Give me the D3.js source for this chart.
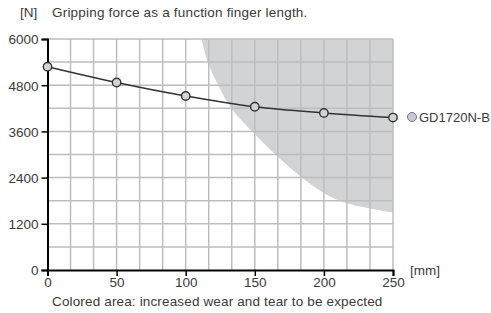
<!DOCTYPE html>
<html>
<head>
<meta charset="utf-8">
<script src="https://cdn.jsdelivr.net/npm/d3@7"></script>
<style>
  body { margin: 0; background: #fff; }
  text { font-family: "Liberation Sans", Arial, sans-serif; fill: #3a3a3a; }
</style>
</head>
<body>
<script>
// data
var lengths = [0, 50, 100, 150, 200, 250];
var forces = [5280, 4870, 4520, 4240, 4080, 3960];
var seriesName = "GD1720N-B";
// edge of the coloured (wear) area: [mm, N]
var wearLen = [111.5, 116, 123.5, 133, 148, 165, 184, 200, 216, 250];
var wearForce = [6000, 5400, 4800, 4200, 3600, 3000, 2400, 2000, 1740, 1490];
var yTicks = [0, 1200, 2400, 3600, 4800, 6000];
var xTicks = [0, 50, 100, 150, 200, 250];

var w = 491, h = 313;
var svg = d3.select("body").append("svg")
  .attr("width", w)
  .attr("height", h);

var x = d3.scaleLinear().domain([0, 250]).range([47.5, 393]);
var y = d3.scaleLinear().domain([0, 6000]).range([270, 39]);

// coloured area
var edge = d3.line()
  .x(function(d){ return x(d[0]); })
  .y(function(d){ return y(d[1]); })
  .curve(d3.curveCatmullRom.alpha(0.5));
var pts = wearLen.map(function(l, i){ return [l, wearForce[i]]; });
svg.append("path")
  .attr("d", edge(pts) + "L" + x(250) + "," + y(6000) + "Z")
  .attr("fill", "#d2d3d5");

// grid: 15 columns, 10 rows
var g = svg.append("g");
var vLines = d3.range(1, 16).map(function(i){ return i * 250 / 15; });
var hLines = d3.range(1, 11).map(function(i){ return i * 600; });
g.selectAll(".v").data(vLines).join("line")
  .attr("x1", function(d){ return x(d); }).attr("x2", function(d){ return x(d); })
  .attr("y1", y(0)).attr("y2", y(6000))
  .attr("stroke", "#bdbdbd").attr("stroke-width", 1.5);
g.selectAll(".h").data(hLines).join("line")
  .attr("x1", x(0)).attr("x2", x(250))
  .attr("y1", function(d){ return y(d); }).attr("y2", function(d){ return y(d); })
  .attr("stroke", "#bdbdbd").attr("stroke-width", 1.5);

// axes
var yAxis = d3.axisLeft(y).tickValues(yTicks).tickSize(6).tickPadding(3).tickFormat(d3.format("d"));
var xAxis = d3.axisBottom(x).tickValues(xTicks).tickSize(6).tickPadding(1).tickFormat(d3.format("d"));
var ya = svg.append("g").attr("transform", "translate(" + x(0) + ",0)").call(yAxis);
var xa = svg.append("g").attr("transform", "translate(0," + y(0) + ")").call(xAxis);
[ya, xa].forEach(function(a){
  a.select(".domain").attr("stroke", "#000").attr("stroke-width", 2);
  a.selectAll(".tick line").attr("stroke", "#000").attr("stroke-width", 1.5);
  a.selectAll("text").attr("font-size", 13.5).attr("fill", "#3a3a3a")
    .style("font-family", '"Liberation Sans", Arial, sans-serif');
});
ya.selectAll(".tick text").attr("dy", "0.36em");

// series line and markers
var line = d3.line()
  .x(function(d, i){ return x(lengths[i]); })
  .y(function(d){ return y(d); })
  .curve(d3.curveMonotoneX);
svg.append("path")
  .attr("d", line(forces))
  .attr("fill", "none")
  .attr("stroke", "#333")
  .attr("stroke-width", 1.5);
svg.selectAll(".pt").data(forces).join("circle")
  .attr("cx", function(d, i){ return x(lengths[i]); })
  .attr("cy", function(d){ return y(d); })
  .attr("r", 4.2)
  .attr("fill", "#d4d4d4")
  .attr("stroke", "#333")
  .attr("stroke-width", 1.4);

// legend
svg.append("circle").attr("cx", 412).attr("cy", 117).attr("r", 4.5)
  .attr("fill", "#c8cad6").attr("stroke", "#777").attr("stroke-width", 1);
svg.append("text").attr("x", 419).attr("y", 121.5).attr("font-size", 13).text(seriesName);

// texts
svg.append("text").attr("x", 20).attr("y", 17).attr("font-size", 13.5).text("[N]");
svg.append("text").attr("x", 52).attr("y", 17).attr("font-size", 13.5)
  .style("letter-spacing", "0.2px").text("Gripping force as a function finger length.");
svg.append("text").attr("x", 410).attr("y", 275).attr("font-size", 13.5).text("[mm]");
svg.append("text").attr("x", 52).attr("y", 306).attr("font-size", 13.5)
  .style("letter-spacing", "0.15px").text("Colored area: increased wear and tear to be expected");
</script>
</body>
</html>
